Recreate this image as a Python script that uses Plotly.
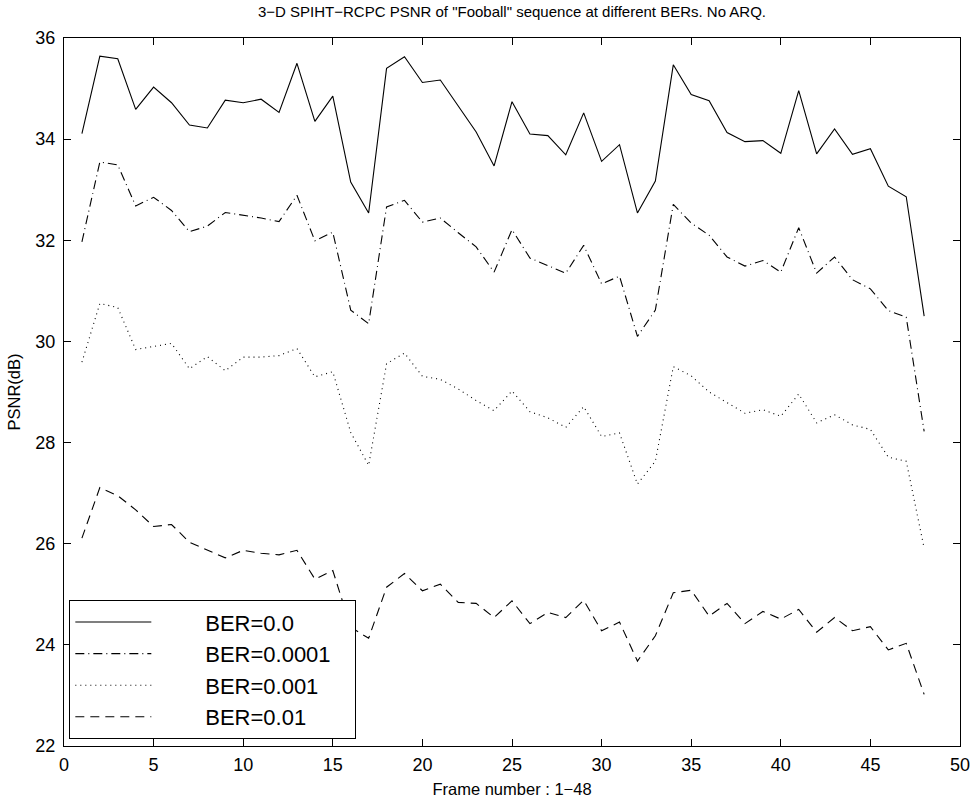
import plotly.graph_objects as go

frames = list(range(1, 49))

ber_0 = [34.11, 35.64, 35.59, 34.59, 35.03, 34.72, 34.28, 34.22, 34.77, 34.72,
         34.79, 34.53, 35.50, 34.35, 34.85, 33.15, 32.54, 35.40, 35.63, 35.12,
         35.17, 34.65, 34.14, 33.47, 34.74, 34.10, 34.07, 33.69, 34.52, 33.56,
         33.89, 32.54, 33.17, 35.47, 34.88, 34.76, 34.13, 33.95, 33.97, 33.72,
         34.96, 33.71, 34.20, 33.70, 33.81, 33.07, 32.86, 30.50]

ber_0001 = [31.97, 33.55, 33.49, 32.68, 32.85, 32.59, 32.17, 32.28, 32.55, 32.50,
            32.44, 32.37, 32.89, 31.99, 32.16, 30.62, 30.35, 32.66, 32.79, 32.36,
            32.44, 32.15, 31.87, 31.37, 32.21, 31.65, 31.50, 31.35, 31.90, 31.14,
            31.29, 30.10, 30.62, 32.71, 32.34, 32.10, 31.67, 31.49, 31.60, 31.37,
            32.25, 31.35, 31.67, 31.22, 31.04, 30.61, 30.48, 28.22]

ber_001 = [29.59, 30.75, 30.67, 29.84, 29.90, 29.96, 29.46, 29.70, 29.42, 29.69,
           29.69, 29.72, 29.86, 29.30, 29.40, 28.20, 27.55, 29.56, 29.77, 29.31,
           29.25, 29.06, 28.83, 28.63, 29.02, 28.61, 28.49, 28.30, 28.71, 28.12,
           28.19, 27.18, 27.63, 29.50, 29.32, 29.00, 28.79, 28.58, 28.65, 28.52,
           28.96, 28.39, 28.55, 28.35, 28.26, 27.71, 27.63, 25.91]

ber_01 = [26.11, 27.11, 26.95, 26.67, 26.34, 26.38, 26.03, 25.87, 25.72, 25.87,
          25.81, 25.78, 25.87, 25.30, 25.47, 24.35, 24.13, 25.14, 25.41, 25.07,
          25.20, 24.84, 24.82, 24.54, 24.87, 24.42, 24.64, 24.54, 24.88, 24.28,
          24.45, 23.68, 24.18, 25.03, 25.08, 24.57, 24.82, 24.42, 24.66, 24.51,
          24.70, 24.25, 24.54, 24.28, 24.36, 23.90, 24.03, 23.02]

series_names = ["BER=0.0", "BER=0.0001", "BER=0.001", "BER=0.01"]
series_values = [ber_0, ber_0001, ber_001, ber_01]
dash_styles = ["solid", "9px,4px,1px,4px", "1px,4px", "9px,6px"]

x_ticks = [0, 5, 10, 15, 20, 25, 30, 35, 40, 45, 50]
y_ticks = [22, 24, 26, 28, 30, 32, 34, 36]

FONT = "Liberation Sans, Arial, Helvetica, sans-serif"
PAD = "\u00a0" * 8
TAIL = "\u00a0" * 3

fig = go.Figure()
for name, vals, dash in zip(series_names, series_values, dash_styles):
    fig.add_trace(go.Scatter(
        x=frames, y=vals, mode="lines", name=PAD + name + TAIL,
        line=dict(color="black", width=1.1, dash=dash),
    ))

axis_common = dict(
    showline=True, linecolor="black", linewidth=1, mirror="allticks",
    ticks="inside", ticklen=7, tickcolor="black", tickwidth=1,
    showgrid=False, zeroline=False, automargin=False,
    tickfont=dict(family=FONT, size=18, color="black"),
)

fig.update_layout(
    width=974, height=801,
    margin=dict(l=64, r=14, t=38, b=55),
    paper_bgcolor="white", plot_bgcolor="white",
    font=dict(family=FONT, color="black"),
    title=dict(
        text='3\u2212D SPIHT\u2212RCPC PSNR of "Fooball" sequence at different BERs. No ARQ.',
        font=dict(family=FONT, size=15, color="black"),
        x=0.5, xref="paper", xanchor="center",
        y=1 - 12 / 801, yref="container", yanchor="middle",
    ),
    xaxis=dict(range=[0, 50], tickvals=x_ticks,
               title=dict(text="Frame number : 1\u221248",
                          font=dict(family=FONT, size=16.5, color="black"),
                          standoff=9),
               ticklabelstandoff=2,
               **axis_common),
    yaxis=dict(range=[22, 36], tickvals=y_ticks,
               title=dict(text="PSNR(dB)",
                          font=dict(family=FONT, size=16.5, color="black"),
                          standoff=10),
               ticklabelstandoff=4,
               **axis_common),
    legend=dict(
        x=0.0056, y=0.01, xanchor="left", yanchor="bottom",
        xref="paper", yref="paper",
        bgcolor="white", bordercolor="black", borderwidth=1.3,
        font=dict(family=FONT, size=22, color="black"),
        itemwidth=76,
        tracegroupgap=0,
    ),
    showlegend=True,
)

fig.write_html("out.html", config={"displayModeBar": False},
               post_script="document.body.style.margin='0';")
